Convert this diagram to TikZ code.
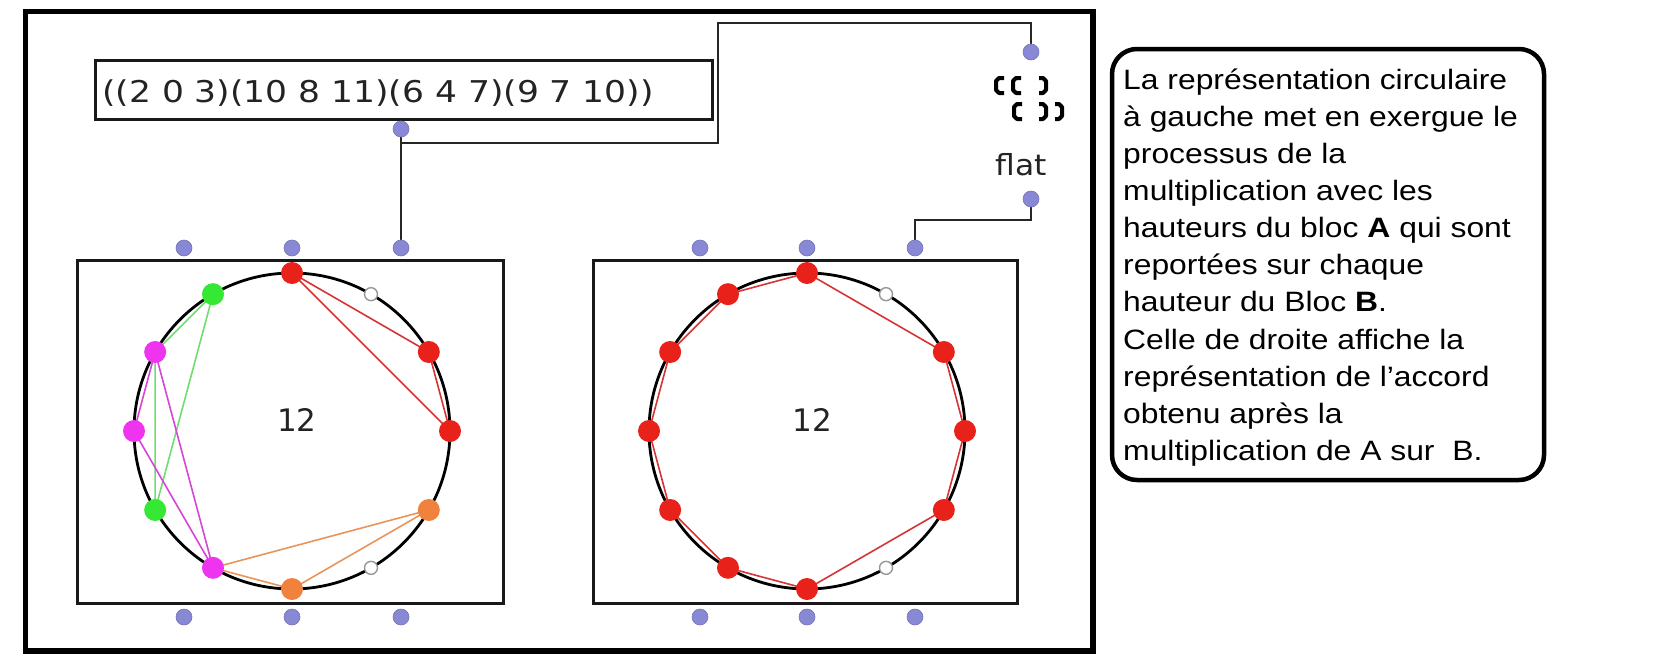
\documentclass[tikz,border=0pt]{standalone}
\usepackage{fontspec}
\setmainfont{Liberation Sans}
\newfontfamily\dvs{DejaVu Sans}
\usetikzlibrary{backgrounds}
\definecolor{inletblue}{RGB}{136,136,212}
\definecolor{cred}{RGB}{232,34,26}
\definecolor{cgreen}{RGB}{52,232,52}
\definecolor{cmag}{RGB}{238,52,238}
\definecolor{corange}{RGB}{240,130,62}
\definecolor{lred}{RGB}{214,52,52}
\definecolor{lgreen}{RGB}{110,222,110}
\definecolor{lmag}{RGB}{214,70,214}
\definecolor{lorange}{RGB}{232,148,90}
\definecolor{hollow}{RGB}{150,150,150}
\definecolor{txtgray}{RGB}{35,35,35}
\begin{document}
\begin{tikzpicture}[x=1pt,y=-1pt,
  inlet/.style={circle,minimum size=16pt,inner sep=0pt,fill=inletblue,draw=inletblue!85!black,line width=0.6pt},
  pcdot/.style={circle,minimum size=22pt,inner sep=0pt},
  hollowdot/.style={circle,minimum size=13pt,inner sep=0pt,fill=white,draw=hollow,line width=1.4pt},
  wire/.style={line width=2.6pt,black!85},
  boxframe/.style={draw=black!90,line width=3pt},
  chordline/.style={line width=1.6pt,line join=round},
  brk/.style={line width=4pt,line join=round,line cap=butt},
  clocktext/.style={font=\dvs\fontsize{31}{36}\selectfont,text=txtgray,inner sep=0pt}]
\useasboundingbox (0,0) rectangle (1654,656);

% outer frame
\draw[line width=5.5pt] (25.5,11.5) rectangle (1093,651);

% list box
\node[boxframe,minimum width=617pt,minimum height=59pt,inner sep=0pt] (lst) at (403.5,89.5) {};
\node[anchor=base west,inner sep=0pt,font=\dvs\fontsize{30}{36}\selectfont,text=txtgray,xscale=1.15] (lsttext) at (102,102) {((2 0 3)(10 8 11)(6 4 7)(9 7 10))};
\node[inlet] (lo) at (401,129) {};

% flat box
\node[inlet] (fi) at (1031,52) {};
\draw[brk] (1004,78) -- (999,78) -- (996,81) -- (996,90) -- (999,93) -- (1004,93);
\draw[brk] (1021,78) -- (1016,78) -- (1013,81) -- (1013,90) -- (1016,93) -- (1021,93);
\draw[brk] (1039,78) -- (1043,78) -- (1046,81) -- (1046,90) -- (1043,93) -- (1039,93);
\draw[brk] (1022,104) -- (1017,104) -- (1014,107) -- (1014,116) -- (1017,119) -- (1022,119);
\draw[brk] (1039,104) -- (1043,104) -- (1046,107) -- (1046,116) -- (1043,119) -- (1039,119);
\draw[brk] (1055,104) -- (1059,104) -- (1062,107) -- (1062,116) -- (1059,119) -- (1055,119);
\node[anchor=base,inner sep=0pt,font=\dvs\fontsize{29}{34}\selectfont,text=txtgray,xscale=1.08] (flat) at (1021,175) {flat};
\node[inlet] (fo) at (1031,199) {};

% chord boxes
\node[boxframe,minimum width=426pt,minimum height=343pt,inner sep=0pt] (boxL) at (290,431.5) {};
\node[boxframe,minimum width=424pt,minimum height=343pt,inner sep=0pt] (boxR) at (805,431.5) {};
\foreach \n/\x in {1/184,2/292,3/401} {
  \node[inlet] (L\n t) at (\x,248) {};
  \node[inlet] (L\n b) at (\x,617) {};
}
\foreach \n/\x in {1/700,2/807,3/915} {
  \node[inlet] (R\n t) at (\x,248) {};
  \node[inlet] (R\n b) at (\x,617) {};
}

% wires
\begin{pgfonlayer}{background}
\draw[wire] (lo.center) -- (L3t.center);
\draw[wire] (lo.center) |- (718,143) -- (718,23) -| (fi.center);
\draw[wire] (fo.center) -- (1031,220) -| (R3t.center);
\end{pgfonlayer}

% circle positions
\foreach \k in {0,...,11} {
  \coordinate (Lp\k) at ({292+158*sin(30*\k)},{431-158*cos(30*\k)});
  \coordinate (Rp\k) at ({807+158*sin(30*\k)},{431-158*cos(30*\k)});
}

% left circle
\draw[line width=2.8pt] (292,431) circle[radius=158];
\node[clocktext] (twelveL) at (297,420) {12};
\draw[chordline,lred] (Lp0) -- (Lp2) -- (Lp3) -- cycle;
\draw[chordline,lgreen] (Lp10) -- (Lp8) -- (Lp11) -- cycle;
\draw[chordline,lorange] (Lp6) -- (Lp4) -- (Lp7) -- cycle;
\draw[chordline,lmag] (Lp9) -- (Lp7) -- (Lp10) -- cycle;
\foreach \k/\c in {0/cred,2/cred,3/cred,11/cgreen,8/cgreen,4/corange,6/corange,7/cmag,9/cmag,10/cmag} {
  \node[pcdot,fill=\c] (Ld\k) at (Lp\k) {};
}
\node[hollowdot] (Lh1) at (Lp1) {};
\node[hollowdot] (Lh5) at (Lp5) {};

% right circle
\draw[line width=2.8pt] (807,431) circle[radius=158];
\node[clocktext] (twelveR) at (812,420) {12};
\draw[chordline,lred] (Rp0) -- (Rp2) -- (Rp3) -- (Rp4) -- (Rp6) -- (Rp7) -- (Rp8) -- (Rp9) -- (Rp10) -- (Rp11) -- cycle;
\foreach \k in {0,2,3,4,6,7,8,9,10,11} {
  \node[pcdot,fill=cred] (Rd\k) at (Rp\k) {};
}
\node[hollowdot] (Rh1) at (Rp1) {};
\node[hollowdot] (Rh5) at (Rp5) {};

% explanation box
\draw[line width=4.5pt,rounded corners=25pt] (1112,49) rectangle (1544,480);
\foreach \t [count=\i] in {
  {La représentation circulaire},
  {à gauche met en exergue le},
  {processus de la},
  {multiplication avec les},
  {hauteurs du bloc \textbf{A} qui sont},
  {reportées sur chaque},
  {hauteur du Bloc \textbf{B}.},
  {Celle de droite affiche la},
  {représentation de l’accord},
  {obtenu après la},
  {multiplication de A sur\ \ B.}} {
  \node[anchor=base west,inner sep=0pt,font=\fontsize{28}{34}\selectfont,xscale=1.137] (line\i) at (1123,{89.3+37.1*(\i-1)}) {\t};
}
\end{tikzpicture}
\end{document}
